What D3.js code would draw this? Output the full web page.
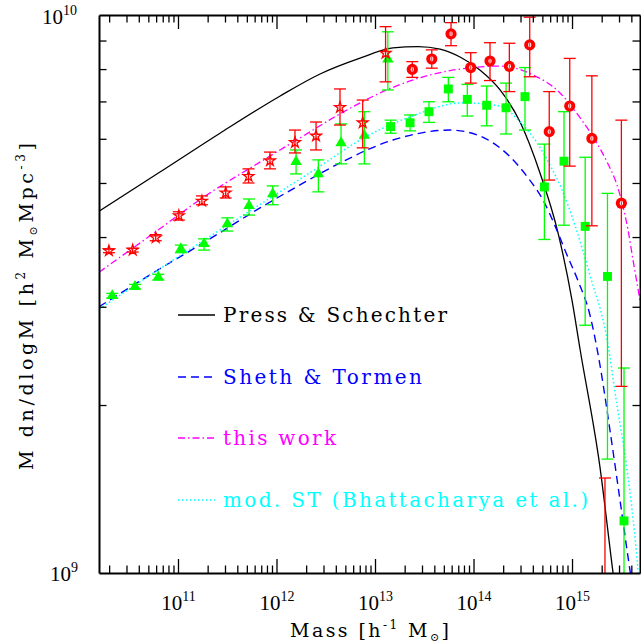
<!DOCTYPE html>
<html>
<head>
<meta charset="utf-8">
<script src="https://cdn.jsdelivr.net/npm/d3@7"></script>
<style>
body { margin: 0; background: #fff; }
text { font-family: "Liberation Serif", "DejaVu Serif", serif; }
text.wide { font-family: "DejaVu Serif", serif; }
</style>
</head>
<body>
<script>
// axis ranges
var massRange = [1.578e10, 4.898e15];
var valueRange = [1e9, 1e10];

// Press & Schechter
var psMass = [1.58e10, 6.56e10, 2.67e11, 1.09e12, 2.77e12, 7.05e12, 1.52e13, 2.74e13, 4.57e13, 7.30e13, 1.16e14, 1.86e14, 2.97e14, 4.73e14, 7.21e14, 1.0e15, 1.21e15, 1.92e15, 2.61e15, 3.45e15];
var psVal = [4.45e9, 5.23e9, 6.14e9, 7.16e9, 7.84e9, 8.37e9, 8.73e9, 8.78e9, 8.69e9, 8.41e9, 7.97e9, 7.34e9, 6.43e9, 5.21e9, 4.07e9, 3.08e9, 2.51e9, 1.55e9, 1.00e9, 7.0e8];

// Sheth & Tormen
var stMass = [1.58e10, 6.56e10, 1.79e11, 6.80e11, 1.73e12, 4.41e12, 1.52e13, 5.78e13, 1.16e14, 2.35e14, 3.57e14, 5.08e14, 6.88e14, 8.69e14, 1.15e15, 1.52e15, 1.92e15, 2.43e15, 3.07e15, 3.88e15, 4.68e15];
var stVal = [3.00e9, 3.51e9, 3.90e9, 4.51e9, 4.96e9, 5.43e9, 5.97e9, 6.22e9, 6.07e9, 5.57e9, 5.11e9, 4.66e9, 4.15e9, 3.75e9, 3.34e9, 2.90e9, 2.36e9, 1.80e9, 1.35e9, 1.01e9, 8.2e8];

// this work
var twMass = [1.58e10, 5.20e10, 1.97e11, 6.80e11, 1.73e12, 4.41e12, 1.32e13, 3.62e13, 9.21e13, 1.86e14, 4.02e14, 7.55e14, 1.21e15, 1.71e15, 2.27e15, 2.86e15, 3.30e15, 3.70e15, 4.16e15, 4.90e15];
var twVal = [3.46e9, 4.02e9, 4.76e9, 5.45e9, 6.02e9, 6.65e9, 7.34e9, 7.81e9, 8.04e9, 8.10e9, 7.81e9, 7.25e9, 6.54e9, 5.97e9, 5.45e9, 4.96e9, 4.53e9, 4.12e9, 3.64e9, 3.08e9];

// mod. ST (Bhattacharya et al.)
var msMass = [1.58e10, 6.56e10, 8.01e11, 2.77e12, 7.05e12, 2.27e13, 7.82e13, 1.86e14, 2.97e14, 4.42e14, 5.99e14, 7.92e14, 1.07e15, 1.52e15, 2.27e15, 2.86e15, 3.62e15, 4.57e15, 4.95e15];
var msVal = [2.97e9, 3.51e9, 4.66e9, 5.36e9, 5.97e9, 6.57e9, 6.96e9, 6.87e9, 6.43e9, 5.90e9, 5.38e9, 4.86e9, 4.20e9, 3.42e9, 2.62e9, 2.00e9, 1.53e9, 1.06e9, 8.9e8];

// red stars
var starMass = [1.99e10, 3.47e10, 5.94e10, 1.02e11, 1.75e11, 3.05e11, 5.20e11, 8.59e11, 1.54e12, 2.52e12, 4.41e12, 7.50e12, 1.28e13];
var starVal = [3.78e9, 3.79e9, 3.99e9, 4.37e9, 4.64e9, 4.80e9, 5.14e9, 5.48e9, 5.91e9, 6.07e9, 6.83e9, 6.41e9, 8.54e9];
var starLo = [3.75e9, 3.76e9, 3.94e9, 4.29e9, 4.57e9, 4.70e9, 5.00e9, 5.30e9, 5.66e9, 5.73e9, 6.35e9, 5.78e9, 7.59e9];
var starHi = [3.81e9, 3.82e9, 4.04e9, 4.44e9, 4.74e9, 4.92e9, 5.30e9, 5.68e9, 6.22e9, 6.43e9, 7.37e9, 7.04e9, 9.53e9];

// green triangles
var triMass = [2.15e10, 3.66e10, 6.31e10, 1.07e11, 1.84e11, 3.17e11, 5.26e11, 9.15e11, 1.58e12, 2.66e12, 4.52e12, 7.79e12, 1.35e13];
var triVal = [3.14e9, 3.26e9, 3.39e9, 3.81e9, 3.89e9, 4.22e9, 4.55e9, 4.78e9, 5.46e9, 5.19e9, 5.90e9, 6.08e9, 8.33e9];
var triLo = [3.11e9, 3.23e9, 3.35e9, 3.75e9, 3.79e9, 4.10e9, 4.38e9, 4.57e9, 5.19e9, 4.82e9, 5.41e9, 5.41e9, 7.34e9];
var triHi = [3.17e9, 3.29e9, 3.43e9, 3.87e9, 3.97e9, 4.33e9, 4.68e9, 4.94e9, 5.73e9, 5.50e9, 6.38e9, 6.71e9, 9.33e9];

// green squares
var sqMass = [1.44e13, 2.27e13, 3.53e13, 5.55e13, 8.65e13, 1.36e14, 2.14e14, 3.33e14, 5.24e14, 8.29e14, 1.36e15, 2.29e15, 3.37e15];
var sqVal = [6.31e9, 6.41e9, 6.71e9, 7.37e9, 7.06e9, 6.89e9, 6.82e9, 7.14e9, 4.92e9, 5.47e9, 4.18e9, 3.40e9, 1.24e9];
var sqLo = [6.14e9, 6.20e9, 6.42e9, 6.99e9, 6.59e9, 6.33e9, 6.12e9, 6.22e9, 3.96e9, 4.20e9, 2.78e9, 1.60e9, 5.0e8];
var sqHi = [6.48e9, 6.62e9, 6.99e9, 7.73e9, 7.51e9, 7.46e9, 7.55e9, 8.05e9, 5.87e9, 6.71e9, 5.56e9, 4.79e9, 2.33e9];

// red circles
var circMass = [2.39e13, 3.77e13, 5.91e13, 9.37e13, 1.47e14, 2.31e14, 3.72e14, 5.87e14, 9.48e14, 1.59e15, 2.16e15, 3.17e15];
var circVal = [7.99e9, 8.34e9, 9.25e9, 8.05e9, 8.27e9, 8.09e9, 8.84e9, 6.18e9, 6.87e9, 6.01e9, 8.0e8, 4.60e9];
var circLo = [7.73e9, 8.03e9, 8.81e9, 7.55e9, 7.63e9, 7.29e9, 7.75e9, 5.06e9, 5.36e9, 4.19e9, 5.0e8, 2.16e9];
var circHi = [8.25e9, 8.66e9, 9.69e9, 8.56e9, 8.92e9, 8.90e9, 9.91e9, 7.29e9, 8.36e9, 7.78e9, 1.48e9, 6.48e9];

var legendNames = ["Press & Schechter", "Sheth & Tormen", "this work", "mod. ST (Bhattacharya et al.)"];

var plotLeft = 99, plotRight = 640, plotTop = 15, plotBottom = 573;

var svg = d3.select("body").append("svg")
    .attr("width", 641)
    .attr("height", 643);

var x = d3.scaleLog().domain(massRange).range([plotLeft, plotRight]);
var y = d3.scaleLog().domain(valueRange).range([plotBottom, plotTop]);

svg.append("clipPath").attr("id", "clip")
    .append("rect")
    .attr("x", plotLeft).attr("y", plotTop)
    .attr("width", plotRight - plotLeft).attr("height", plotBottom - plotTop);

function isMajor(v) {
    var l = Math.log10(v);
    return Math.abs(l - Math.round(l)) < 1e-6;
}

// tick values
var xTicks = [];
for (var e = 10; e <= 15; e++) {
    for (var k = 1; k <= 9; k++) {
        var v = k * Math.pow(10, e);
        if (v >= massRange[0] && v <= massRange[1]) xTicks.push(v);
    }
}
var yTicks = [1e9, 2e9, 3e9, 4e9, 5e9, 6e9, 7e9, 8e9, 9e9, 1e10];

// curves
var plot = svg.append("g").attr("clip-path", "url(#clip)");

var line = d3.line()
    .x(function(d) { return x(d[0]); })
    .y(function(d) { return y(d[1]); })
    .curve(d3.curveMonotoneX);

function zip(a, b) { return a.map(function(v, i) { return [v, b[i]]; }); }

var curves = [
    { m: psMass, v: psVal, color: "#000000", dash: null, w: 1.3 },
    { m: stMass, v: stVal, color: "#0000ff", dash: "8,5", w: 1.4 },
    { m: twMass, v: twVal, color: "#ff00ff", dash: "7,3,1.5,3", w: 1.3 },
    { m: msMass, v: msVal, color: "#00ffff", dash: "1.5,2.5", w: 1.5 }
];

curves.forEach(function(c) {
    plot.append("path")
        .datum(zip(c.m, c.v))
        .attr("d", line)
        .attr("fill", "none")
        .attr("stroke", c.color)
        .attr("stroke-width", c.w)
        .attr("stroke-dasharray", c.dash);
});

// points with error bars
function drawPoints(mass, val, lo, hi, color, shape) {
    var data = mass.map(function(m, i) { return { m: m, v: val[i], lo: lo[i], hi: hi[i] }; });
    var g = plot.append("g");
    var pts = g.selectAll("g").data(data).enter().append("g");
    pts.append("line")
        .attr("x1", function(d) { return x(d.m); })
        .attr("x2", function(d) { return x(d.m); })
        .attr("y1", function(d) { return y(d.lo); })
        .attr("y2", function(d) { return y(d.hi); })
        .attr("stroke", color).attr("stroke-width", 1.3);
    ["lo", "hi"].forEach(function(key) {
        pts.append("line")
            .attr("x1", function(d) { return x(d.m) - 6; })
            .attr("x2", function(d) { return x(d.m) + 6; })
            .attr("y1", function(d) { return y(d[key]); })
            .attr("y2", function(d) { return y(d[key]); })
            .attr("stroke", color).attr("stroke-width", 1.3);
    });
    if (shape === "circle") {
        pts.append("circle")
            .attr("cx", function(d) { return x(d.m); })
            .attr("cy", function(d) { return y(d.v); })
            .attr("r", 5.6).attr("fill", color);
        pts.append("ellipse")
            .attr("cx", function(d) { return x(d.m); })
            .attr("cy", function(d) { return y(d.v); })
            .attr("rx", 1.6).attr("ry", 2.4).attr("fill", "#fff");
        pts.append("line")
            .attr("x1", function(d) { return x(d.m); })
            .attr("x2", function(d) { return x(d.m); })
            .attr("y1", function(d) { return y(d.v) - 2; })
            .attr("y2", function(d) { return y(d.v) + 2; })
            .attr("stroke", color).attr("stroke-width", 0.9);
    } else {
        var sym = shape === "star" ? d3.symbol().type(d3.symbolStar).size(36)
                : shape === "triangle" ? d3.symbol().type(d3.symbolTriangle).size(56)
                : d3.symbol().type(d3.symbolSquare).size(80);
        pts.append("path")
            .attr("d", sym)
            .attr("transform", function(d) { return "translate(" + x(d.m) + "," + y(d.v) + ")"; })
            .attr("fill", shape === "star" ? "none" : color)
            .attr("stroke", shape === "star" ? color : "none")
            .attr("stroke-width", 1.3);
    }
}

drawPoints(triMass, triVal, triLo, triHi, "#00ff00", "triangle");
drawPoints(sqMass, sqVal, sqLo, sqHi, "#00ff00", "square");
drawPoints(starMass, starVal, starLo, starHi, "#ff0000", "star");
drawPoints(circMass, circVal, circLo, circHi, "#ff0000", "circle");

// axes
function styleAxis(g) {
    g.select(".domain").attr("stroke", "#000").attr("stroke-width", 2);
    g.selectAll(".tick line").attr("stroke", "#000").attr("stroke-width", 1.3);
}

function powerLabel(sel) {
    sel.style("font-size", "21px")
        .each(function(d) {
            var t = d3.select(this);
            t.append("tspan").text("10");
            t.append("tspan").attr("dy", -9).style("font-size", "14px").text(Math.round(Math.log10(d)));
        });
}

var gx = svg.append("g")
    .attr("transform", "translate(0," + plotBottom + ")")
    .call(d3.axisBottom(x).tickValues(xTicks).tickFormat("").tickSizeOuter(0).tickSizeInner(-7.5));
gx.selectAll(".tick line").attr("y2", function(d) { return isMajor(d) ? -14 : -7.5; });
styleAxis(gx);
gx.selectAll(".tick text").filter(isMajor)
    .attr("y", 37).attr("dy", 0).attr("fill", "#000")
    .call(powerLabel);

var gxt = svg.append("g")
    .attr("transform", "translate(0," + plotTop + ")")
    .call(d3.axisTop(x).tickValues(xTicks).tickFormat("").tickSizeOuter(0).tickSizeInner(-7.5));
gxt.selectAll(".tick line").attr("y2", function(d) { return isMajor(d) ? 14 : 7.5; });
styleAxis(gxt);

var gy = svg.append("g")
    .attr("transform", "translate(" + plotLeft + ",0)")
    .call(d3.axisLeft(y).tickValues(yTicks).tickFormat("").tickSizeOuter(0).tickSizeInner(-7.5));
gy.selectAll(".tick line").filter(isMajor).attr("x2", 0);
styleAxis(gy);
gy.selectAll(".tick text").filter(isMajor)
    .attr("text-anchor", "start").attr("dy", 0).attr("fill", "#000")
    .attr("x", function(d) { return d === 1e10 ? -57 : -49; })
    .attr("y", function(d) { return d === 1e10 ? 8 : 7; })
    .call(powerLabel);

var gyr = svg.append("g")
    .attr("transform", "translate(" + plotRight + ",0)")
    .call(d3.axisRight(y).tickValues(yTicks).tickFormat("").tickSizeOuter(0).tickSizeInner(-7.5));
gyr.selectAll(".tick line").filter(isMajor).attr("x2", 0);
styleAxis(gyr);

// axis titles
var xt = svg.append("text")
    .attr("class", "wide")
    .attr("x", 290).attr("y", 637)
    .attr("textLength", 159).attr("lengthAdjust", "spacing")
    .style("font-size", "19px");
xt.append("tspan").text("Mass [h");
xt.append("tspan").attr("dy", -8).style("font-size", "12px").text("-1");
xt.append("tspan").attr("dy", 8).text(" M");
xt.append("tspan").attr("dy", 4).style("font-size", "11px").text("\u2299");
xt.append("tspan").attr("dy", -4).text("]");

var yt = svg.append("text")
    .attr("class", "wide")
    .attr("transform", "translate(33,470) rotate(-90)")
    .attr("textLength", 327).attr("lengthAdjust", "spacing")
    .style("font-size", "19px");
yt.append("tspan").text("M dn/dlogM [h");
yt.append("tspan").attr("dy", -8).style("font-size", "12px").text("2");
yt.append("tspan").attr("dy", 8).text(" M");
yt.append("tspan").attr("dy", 4).style("font-size", "11px").text("\u2299");
yt.append("tspan").attr("dy", -4).text("Mpc");
yt.append("tspan").attr("dy", -8).style("font-size", "12px").text("-3");
yt.append("tspan").attr("dy", 8).text("]");

// legend
var legendY = [315, 377, 438, 500];
var legendWidths = [224, 199, 113, 365];
var legendColors = ["#000000", "#0000ff", "#ff00ff", "#00ffff"];
var legend = svg.append("g");
legendNames.forEach(function(name, i) {
    legend.append("line")
        .attr("x1", 178).attr("x2", 215)
        .attr("y1", legendY[i]).attr("y2", legendY[i])
        .attr("stroke", legendColors[i])
        .attr("stroke-width", curves[i].w)
        .attr("stroke-dasharray", curves[i].dash);
    legend.append("text")
        .attr("class", "wide")
        .attr("x", 223).attr("y", legendY[i] + 7)
        .attr("fill", legendColors[i])
        .attr("textLength", legendWidths[i])
        .attr("lengthAdjust", "spacing")
        .style("font-size", "20px")
        .text(name);
});
</script>
</body>
</html>
